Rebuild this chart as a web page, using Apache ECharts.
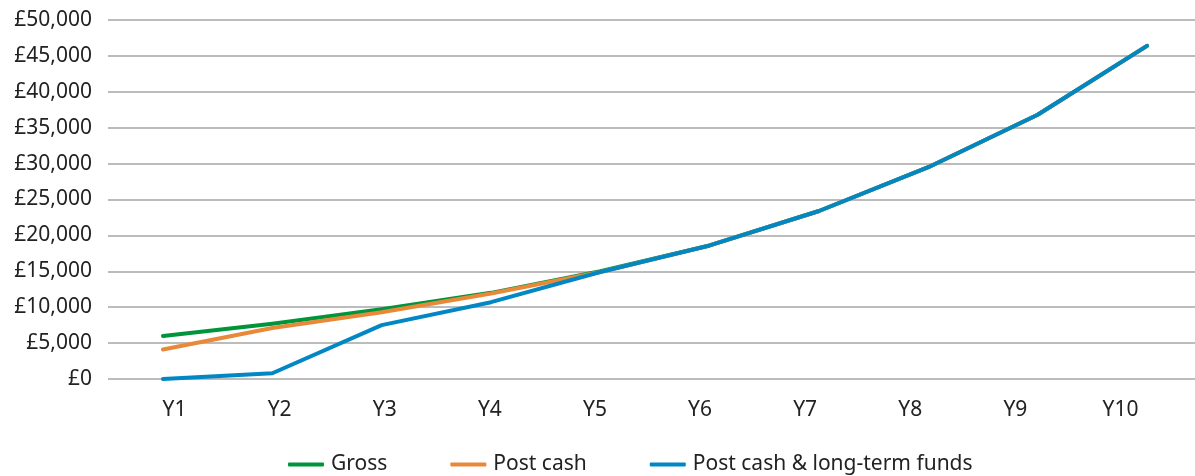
<!DOCTYPE html>
<html>
<head>
<meta charset="utf-8">
<script src="https://cdn.jsdelivr.net/npm/echarts@6/dist/echarts.min.js"></script>
<style>
    html, body { margin: 0; padding: 0; background: #fff; }
    #chart { width: 1195px; height: 476px; }
</style>
</head>
<body>
<div id="chart"></div>
<script>
// 数据
var years = ['Y1', 'Y2', 'Y3', 'Y4', 'Y5', 'Y6', 'Y7', 'Y8', 'Y9', 'Y10'];
var gross = [6000, 7700, 9700, 12000, 15000, 18600, 23400, 29500, 36800, 46400];
var postCash = [4100, 7100, 9300, 11900, 14900, 18600, 23400, 29500, 36800, 46400];
var postCashFunds = [0, 800, 7500, 10700, 14900, 18600, 23400, 29500, 36800, 46400];
var yTicks = [0, 5000, 10000, 15000, 20000, 25000, 30000, 35000, 40000, 45000, 50000];

(function () {
    var myChart = echarts.init(document.getElementById('chart'));
    var font = '"Noto Sans", sans-serif';
    var yMin = yTicks[0];
    var yMax = yTicks[yTicks.length - 1];

    function money(v) {
        return '£' + v.toLocaleString('en-GB');
    }

    function line(name, data, color) {
        return {
            name: name,
            type: 'line',
            data: data,
            symbol: 'none',
            lineStyle: { width: 4, color: color, cap: 'round', join: 'round' },
            itemStyle: { color: color }
        };
    }

    var option = {
        animation: false,
        textStyle: { fontFamily: font },
        legend: {
            top: 449,
            left: 283,
            itemWidth: 36,
            itemHeight: 4,
            itemGap: 63,
            icon: 'roundRect',
            textStyle: { fontSize: 21, color: '#222', fontFamily: font, padding: [0, 0, 0, 2] },
            data: ['Gross', 'Post cash', 'Post cash & long-term funds']
        },
        grid: [
            // 折线
            { left: 163, right: 48, top: 20, bottom: 97 },
            // 网格线 + y 轴文字
            { left: 108, right: 0, top: 20, bottom: 97 },
            // x 轴文字
            { left: 122, right: 22, top: 20, bottom: 97 }
        ],
        xAxis: [
            {
                type: 'category',
                data: years,
                gridIndex: 0,
                boundaryGap: false,
                show: false
            },
            {
                type: 'category',
                data: years,
                gridIndex: 1,
                show: false
            },
            {
                type: 'category',
                data: years,
                gridIndex: 2,
                axisLine: { show: false },
                axisTick: { show: false },
                axisLabel: { margin: 21, fontSize: 21, color: '#222', fontFamily: font }
            }
        ],
        yAxis: [
            {
                type: 'value',
                gridIndex: 0,
                min: yMin,
                max: yMax,
                show: false,
                splitLine: { show: false }
            },
            {
                type: 'value',
                gridIndex: 1,
                min: yMin,
                max: yMax,
                interval: 5000,
                axisLine: { show: false },
                axisTick: { show: false },
                axisLabel: {
                    margin: 16,
                    fontSize: 21,
                    color: '#222',
                    fontFamily: font,
                    formatter: money
                },
                splitLine: { lineStyle: { color: '#a6a6a6', width: 1.5 } }
            },
            {
                type: 'value',
                gridIndex: 2,
                min: yMin,
                max: yMax,
                show: false,
                splitLine: { show: false }
            }
        ],
        series: [
            line('Gross', gross, '#00953b'),
            line('Post cash', postCash, '#e8893a'),
            line('Post cash & long-term funds', postCashFunds, '#0087c4')
        ]
    };

    myChart.setOption(option);

    window.addEventListener('resize', function () {
        myChart.resize();
    });
})();
</script>
</body>
</html>
